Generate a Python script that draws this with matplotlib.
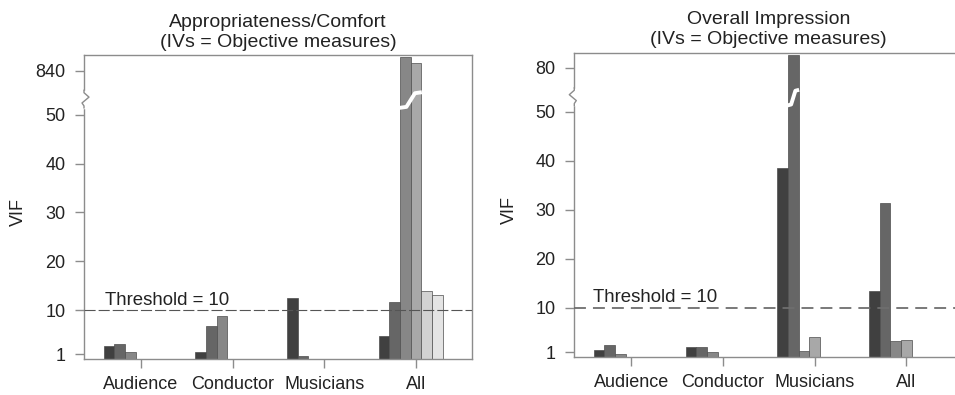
import numpy as np
import matplotlib.pyplot as plt
from matplotlib.transforms import blended_transform_factory

plt.rcParams['font.family'] = ['Liberation Sans', 'DejaVu Sans']
plt.rcParams['font.size'] = 13

# VIF per predictor, grouped by set of objective measures
groups = ['Audience', 'Conductor', 'Musicians', 'All']

comfort_audience = [2.6, 3.0, 1.5]
comfort_conductor = [1.5, 6.7, 8.8]
comfort_musicians = [12.4, 0.6]
comfort_all = [4.7, 11.6, 878, 860, 13.9, 13.0]

overall_audience = [1.5, 2.4, 0.7]
overall_conductor = [2.1, 2.0, 1.1]
overall_musicians = [38.5, 83.5, 1.3, 4.0]
overall_all = [13.5, 31.5, 3.2, 3.5]

comfort_ticks = [1, 10, 20, 30, 40, 50, 840]
overall_ticks = [1, 10, 20, 30, 40, 50, 80]
threshold = 10

shades = ['#404040', '#666666', '#878787', '#a8a8a8', '#d2d2d2', '#e4e4e4']
axis_grey = '#8c8c8c'
PITCH = 8.6


def broken_scale(lo, hi, dhi, k):
    # linear up to lo, squashed between lo and hi, then linear again with slope k
    def fwd(v):
        v = np.asarray(v, dtype=float)
        return np.where(v <= lo, v,
                        np.where(v <= hi, lo + (v - lo) * (dhi - lo) / (hi - lo),
                                 dhi + (v - hi) * k))

    def inv(d):
        d = np.asarray(d, dtype=float)
        return np.where(d <= lo, d,
                        np.where(d <= dhi, lo + (d - lo) * (hi - lo) / (dhi - lo),
                                 hi + (d - dhi) / k))
    return fwd, inv


def draw_panel(ax, values, title, yticks, scale, ytop, broken, brk, side,
               thr_style, text_x, text_y):
    fwd, inv = broken_scale(*scale)
    ax.set_yscale('function', functions=(fwd, inv))

    for g, vals in enumerate(values):
        start = g * PITCH
        for i, v in enumerate(vals):
            ax.bar(start + i, v, width=1, align='edge', color=shades[i],
                   edgecolor='#4d4d4d', linewidth=0.5, zorder=2)

    ax.set_xlim(-1.83, 34.55)
    ax.set_ylim(0, float(inv(ytop)))

    ax.set_xticks([g * PITCH + 3.5 for g in range(len(groups))])
    ax.set_xticklabels(groups)
    ax.set_yticks(yticks)
    ax.set_yticklabels([str(t) for t in yticks])
    ax.tick_params(axis='both', length=6.5, width=1, color=axis_grey,
                   labelcolor='#222222', pad=7)
    ax.tick_params(axis='x', pad=6)
    for s in ax.spines.values():
        s.set_color(axis_grey)
        s.set_linewidth(1)

    # threshold line and its label
    lw, dashes, col = thr_style
    ax.axhline(threshold, color=col, linewidth=lw, linestyle=(0, dashes), zorder=3)
    ax.text(text_x, text_y, f'Threshold = {threshold}', color='#222222',
            fontsize=13.4,
            transform=blended_transform_factory(ax.transAxes, ax.transData))

    ax.set_title(title, fontsize=14, pad=6, linespacing=1.22, color='#222222')
    ax.text(-0.168, 0.484, 'VIF', rotation=90, ha='center', va='center',
            transform=ax.transAxes, color='#222222')

    # white zigzag across the broken bars
    g, i0, i1 = broken
    x0 = g * PITCH + i0
    x1 = g * PITCH + i1 + 1
    w = x1 - x0
    zx = [x0 - 0.05, x0 + 0.3 * w, x1 - 0.3 * w, x1 + 0.05]
    zy = inv([brk - 1.6, brk - 1.4, brk + 1.4, brk + 1.6])
    ax.plot(zx, zy, color='white', linewidth=2.8, zorder=4,
            solid_capstyle='butt')

    # break mark on the y axis
    tr = blended_transform_factory(ax.transAxes, ax.transData)
    ax.plot([0, 0], inv([brk - 1.4, brk + 1.6]), color='white', linewidth=2.5,
            transform=tr, clip_on=False, zorder=5)
    dx = side * 5 / 388
    ax.plot([0, 0, dx, -dx * 0.4, 0, 0],
            inv([brk + 2.0, brk + 1.5, brk + 0.6, brk - 0.6, brk - 1.2, brk - 1.6]),
            color=axis_grey, linewidth=1, transform=tr, clip_on=False, zorder=6)


fig = plt.figure(figsize=(9.55, 3.95), dpi=100)
ax1 = fig.add_axes([84 / 955, 36 / 395, 388 / 955, 304 / 395])
ax2 = fig.add_axes([574.3 / 955, 38 / 395, 388 / 955, 304.5 / 395])

draw_panel(ax1,
           [comfort_audience, comfort_conductor, comfort_musicians, comfort_all],
           'Appropriateness/Comfort\n(IVs = Objective measures)',
           comfort_ticks, (52, 800, 56, 0.075), 62.22, (3, 2, 3), 53.0, 1,
           (0.8, (10, 2.7), '#555555'), 0.054, 11.0)

draw_panel(ax2,
           [overall_audience, overall_conductor, overall_musicians, overall_all],
           'Overall Impression\n(IVs = Objective measures)',
           overall_ticks, (52, 76, 56, 0.75), 62.1, (2, 1, 1), 52.9, -1,
           (1.3, (6.6, 3.9), '#6e6e6e'), 0.049, 11.2)

fig.savefig('out.png', dpi=100)
